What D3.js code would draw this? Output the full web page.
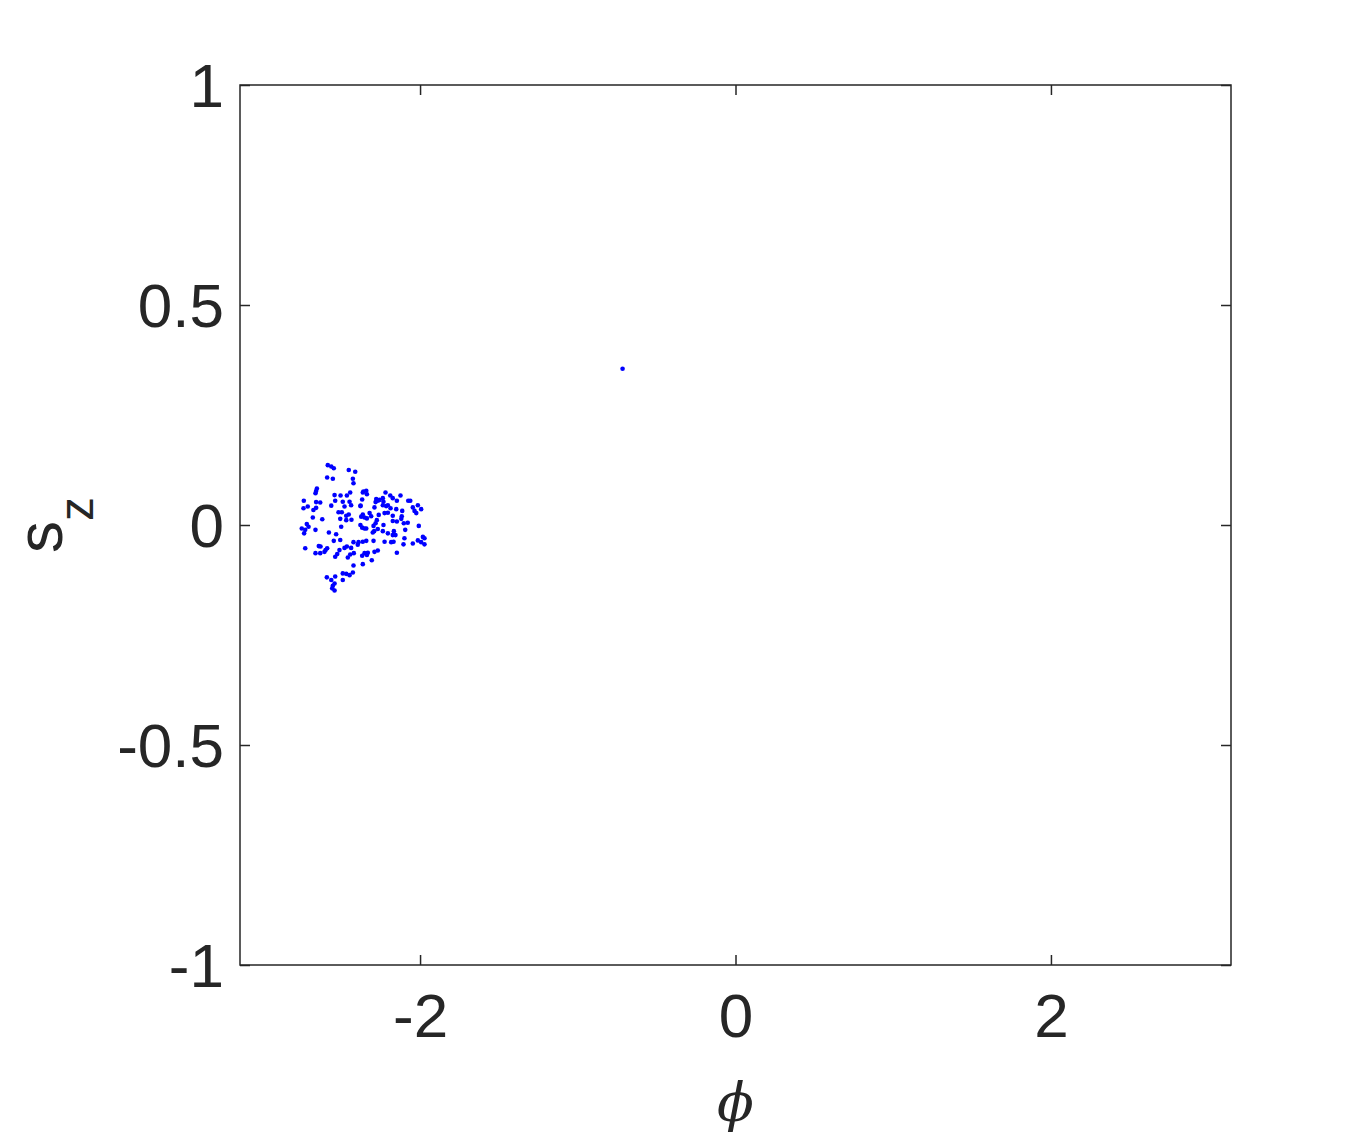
<!DOCTYPE html>
<html>
<head>
<meta charset="utf-8">
<script src="https://cdn.jsdelivr.net/npm/d3@7"></script>
<style>
  body { margin: 0; background: #fff; }
  svg { display: block; }
</style>
</head>
<body>
<div id="chart"></div>
<script>
// scatter points (phi, s_z)
var phiVals = [
  -2.585,-2.563,-2.547,-2.452,-2.411,-2.589,-2.553,-2.426,-2.422,-2.654,
  -2.659,-2.663,-2.363,-2.443,-2.464,-2.504,-2.542,-2.737,-2.538,-2.659,
  -2.633,-2.490,-2.447,-2.437,-2.563,-2.479,-2.378,-2.739,-2.676,-2.712,
  -2.659,-2.517,-2.496,-2.452,-2.468,-2.363,-2.373,-2.680,-2.620,-2.506,
  -2.468,-2.435,-2.718,-2.707,-2.750,-2.728,-2.735,-2.663,-2.500,-2.378,
  -2.367,-2.578,-2.532,-2.506,-2.547,-2.422,-2.395,-2.390,-2.363,-2.642,
  -2.631,-2.728,-2.589,-2.599,-2.511,-2.479,-2.464,-2.437,-2.663,-2.633,
  -2.606,-2.525,-2.538,-2.443,-2.420,-2.458,-2.367,-2.422,-2.363,-2.490,
  -2.468,-2.447,-2.426,-2.591,-2.563,-2.538,-2.490,-2.542,-2.553,-2.557,
  -2.542,
  -2.359,-2.341,-2.337,-2.367,-2.219,-2.278,-2.268,-2.282,-2.257,-2.236,
  -2.232,-2.189,-2.173,-2.124,-2.147,-2.075,-2.062,-2.377,-2.236,-2.215,
  -2.204,-2.187,-2.046,-2.014,-1.993,-2.035,-2.024,-2.289,-2.151,-2.113,
  -2.320,-2.310,-2.337,-2.352,-2.262,-2.225,-2.204,-2.173,-2.116,-2.119,
  -2.274,-2.282,-2.295,-2.173,-2.147,-2.103,-2.078,-2.232,-2.008,-2.352,
  -2.341,-2.268,-2.291,-2.300,-2.236,-2.204,-2.166,-2.156,-2.173,-2.094,
  -1.982,-1.972,-2.099,-2.014,-1.993,-1.972,-2.046,-2.105,-2.341,-2.295,
  -2.225,-2.183,-2.168,-2.352,-2.337,-2.331,-2.289,-2.268,-2.147,-2.306,
  -0.716
];
var szVals = [
  0.136,0.133,0.129,0.125,0.121,0.108,0.105,0.105,0.095,0.083,
  0.077,0.072,0.074,0.074,0.067,0.067,0.068,0.055,0.055,0.052,
  0.051,0.053,0.053,0.045,0.044,0.042,0.043,0.038,0.034,0.042,
  0.039,0.029,0.029,0.024,0.021,0.024,0.019,0.017,0.013,0.014,
  0.011,0.012,0.002,-0.004,-0.008,-0.011,-0.019,-0.011,-0.004,0.000,
  -0.006,-0.017,-0.021,-0.034,-0.036,-0.039,-0.045,-0.039,-0.038,-0.048,
  -0.049,-0.053,-0.053,-0.057,-0.057,-0.052,-0.049,-0.052,-0.064,-0.064,
  -0.061,-0.066,-0.072,-0.067,-0.064,-0.074,-0.070,-0.092,-0.089,-0.110,
  -0.111,-0.114,-0.108,-0.119,-0.125,-0.117,-0.125,-0.133,-0.138,-0.144,
  -0.149,
  0.076,0.078,0.070,0.058,0.074,0.059,0.055,0.052,0.057,0.061,
  0.053,0.067,0.061,0.067,0.055,0.055,0.055,0.044,0.045,0.043,
  0.045,0.038,0.040,0.045,0.036,0.032,0.027,0.040,0.036,0.032,
  0.027,0.020,0.015,0.017,0.023,0.027,0.028,0.021,0.020,0.014,
  0.011,0.004,-0.002,0.009,0.008,0.004,0.005,0.000,-0.002,-0.008,
  -0.008,-0.009,-0.014,-0.017,-0.014,-0.019,-0.014,-0.023,-0.023,-0.011,
  -0.027,-0.030,-0.030,-0.035,-0.039,-0.044,-0.042,-0.044,-0.036,-0.036,
  -0.038,-0.039,-0.038,-0.064,-0.068,-0.063,-0.061,-0.058,-0.063,-0.080,
  0.355
];
var xTicks = [-2, 0, 2];
var yTicks = [-1, -0.5, 0, 0.5, 1];

var data = phiVals.map(function(d, i) { return {phi: d, sz: szVals[i]}; });

var W = 1360, H = 1134;
var margin = {top: 85, right: 129, bottom: 169, left: 240};
var width = W - margin.left - margin.right,
    height = H - margin.top - margin.bottom;

var axisColor = "#262626";
var fontTick = "'Liberation Sans', Arial, Helvetica, sans-serif";

var svg = d3.select("#chart").append("svg")
  .attr("width", W)
  .attr("height", H);

var g = svg.append("g")
  .attr("transform", "translate(" + margin.left + "," + margin.top + ")");

var x = d3.scaleLinear().domain([-Math.PI, Math.PI]).range([0, width]);
var y = d3.scaleLinear().domain([-1, 1]).range([height, 0]);

// points first, box on top
g.selectAll("circle.pt")
  .data(data)
  .enter().append("circle")
  .attr("class", "pt")
  .attr("cx", function(d) { return x(d.phi); })
  .attr("cy", function(d) { return y(d.sz); })
  .attr("r", 2.3)
  .attr("fill", "#0000ff");

// plain hyphen minus like the original, not d3's unicode minus
var plain = function(d) { return String(d); };

// axes: ticks pointing inward, mirrored on top/right
var tickLen = 10;
var xAxis = g.append("g")
  .attr("transform", "translate(0," + height + ")")
  .call(d3.axisBottom(x).tickValues(xTicks).tickSize(-tickLen).tickPadding(28).tickFormat(plain));
var yAxis = g.append("g")
  .call(d3.axisLeft(y).tickValues(yTicks).tickSize(-tickLen).tickPadding(16).tickFormat(plain));
var xTop = g.append("g")
  .call(d3.axisTop(x).tickValues(xTicks).tickSize(-tickLen).tickFormat(""));
var yRight = g.append("g")
  .attr("transform", "translate(" + width + ",0)")
  .call(d3.axisRight(y).tickValues(yTicks).tickSize(-tickLen).tickFormat(""));

[xAxis, yAxis, xTop, yRight].forEach(function(a) {
  a.select(".domain").remove();
  a.selectAll("line").attr("stroke", axisColor).attr("stroke-width", 1.5);
  a.selectAll("text")
    .attr("fill", axisColor)
    .style("font-family", fontTick)
    .style("font-size", "62px");
});
xAxis.selectAll("text").attr("dy", "0.71em");
yAxis.selectAll("text").attr("dy", "0.35em");

// box
g.append("rect")
  .attr("x", 0).attr("y", 0)
  .attr("width", width).attr("height", height)
  .attr("fill", "none")
  .attr("stroke", axisColor)
  .attr("stroke-width", 1.5);

// x label: phi
svg.append("text")
  .attr("x", margin.left + width / 2)
  .attr("y", 1121)
  .attr("text-anchor", "middle")
  .style("font-family", "'DejaVu Serif', 'Liberation Serif', serif")
  .style("font-style", "italic")
  .style("font-size", "54px")
  .attr("fill", axisColor)
  .text("\u03D5");

// y label: s_z
var yl = svg.append("text")
  .attr("transform", "translate(62,553) rotate(-90)")
  .attr("fill", axisColor)
  .style("font-family", fontTick)
  .style("font-size", "64px");
yl.append("tspan").text("s");
yl.append("tspan").attr("dy", 31).style("font-size", "48px").text("z");
</script>
</body>
</html>
